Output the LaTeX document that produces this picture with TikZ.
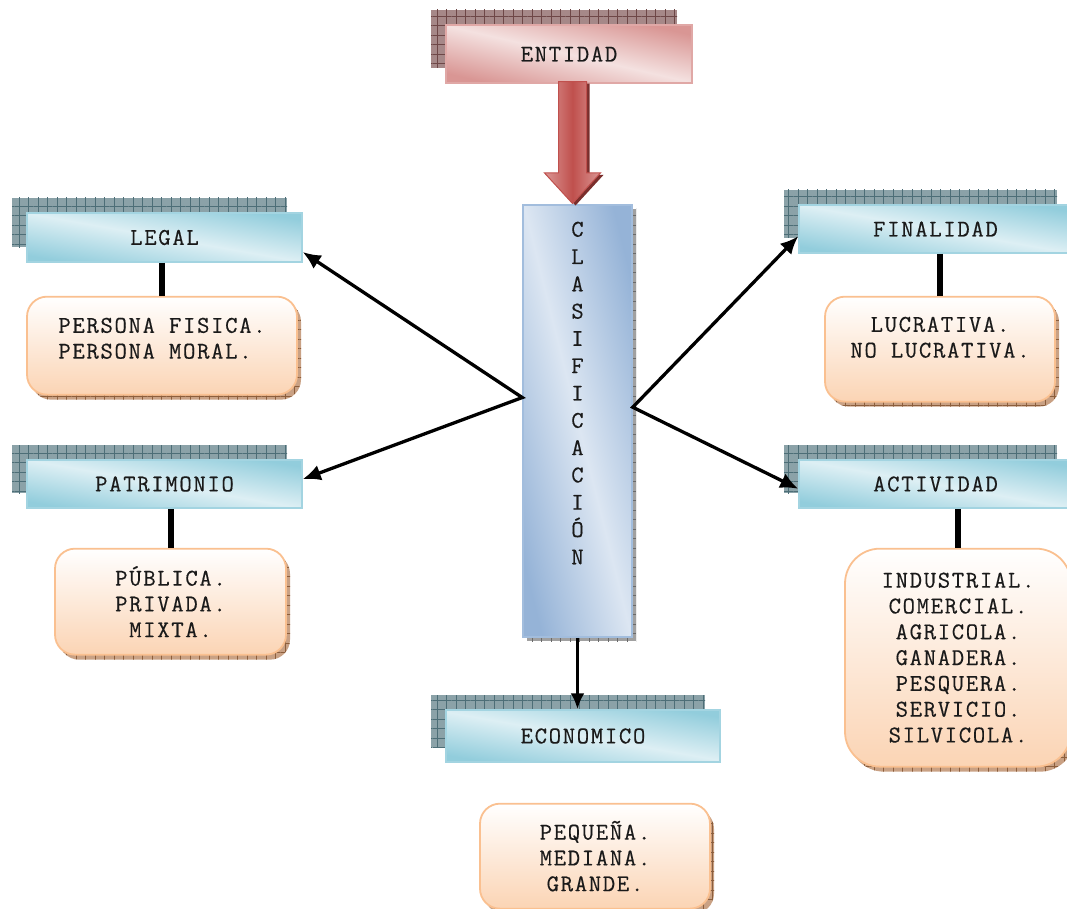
\documentclass[tikz,border=0pt]{standalone}
\usepackage{fontspec}
\newfontfamily\courfont[LetterSpace=7, FakeBold=0.4]{Latin Modern Mono}
\usetikzlibrary{positioning,arrows.meta,shapes.arrows,shadows,patterns.meta}

\definecolor{hdrdark}{HTML}{92CDDC}
\definecolor{hdrlite}{HTML}{DDEFF4}
\definecolor{hdrline}{HTML}{A3D4E1}
\definecolor{entdark}{HTML}{D99694}
\definecolor{entlite}{HTML}{F4E1E0}
\definecolor{entline}{HTML}{E0A8A6}
\definecolor{clsdark}{HTML}{95B3D7}
\definecolor{clslite}{HTML}{DCE6F2}
\definecolor{clsline}{HTML}{A2BDDD}
\definecolor{itmdark}{HTML}{FBD4B4}
\definecolor{itmline}{HTML}{FAC090}
\definecolor{arrred}{HTML}{C0504D}
\definecolor{arrpink}{HTML}{DA9694}
\definecolor{arrshd}{HTML}{7A2E2C}
\definecolor{shdblue}{HTML}{8BA2A8}
\definecolor{shdblueln}{HTML}{4D6E77}
\definecolor{shdpink}{HTML}{A68888}
\definecolor{shdpinkln}{HTML}{6E4747}
\definecolor{shdorg}{HTML}{C9A184}
\definecolor{shdorgln}{HTML}{8C5E3C}
\definecolor{shdgray}{HTML}{A0A0A0}
\definecolor{shdgrayln}{HTML}{6A6A6A}
\definecolor{txt}{HTML}{1A1A1A}

\tikzset{
  gridshadow/.style n args={4}{
    general shadow={shadow xshift=#1, shadow yshift=#2, fill=#3},
    general shadow={shadow xshift=#1, shadow yshift=#2, pattern color=#4,
                    pattern={Hatch[angle=0, distance=9.5pt, line width=0.9pt]}}},
  header/.style={rectangle, line width=1.5pt, text=txt, inner sep=0pt,
                 font=\courfont\fontsize{24}{26}\selectfont},
  bluehdr/.style={header, draw=hdrline, top color=hdrdark, bottom color=hdrdark,
                  middle color=hdrlite, shading angle=-10,
                  gridshadow={-15pt}{15pt}{shdblue}{shdblueln}},
  pinkhdr/.style={header, draw=entline, top color=entdark, bottom color=entdark,
                  middle color=entlite, shading angle=-13,
                  gridshadow={-15pt}{15pt}{shdpink}{shdpinkln}},
  clasbox/.style={rectangle, line width=1.5pt, draw=clsline, text=txt,
                  top color=clsdark, bottom color=clsdark, middle color=clslite,
                  shading angle=-76, inner sep=0pt, align=center,
                  minimum width=109pt, minimum height=432pt, text depth=56pt,
                  font=\courfont\fontsize{24}{27.3}\selectfont,
                  gridshadow={4pt}{-4pt}{shdgray}{shdgrayln}},
  item/.style={rectangle, rounded corners=20pt, line width=1.8pt, draw=itmline,
               top color=white, bottom color=itmdark, text=txt, align=center,
               inner sep=0pt, font=\courfont\fontsize{24}{25.8}\selectfont,
               gridshadow={4pt}{-5pt}{shdorg}{shdorgln}},
  bigarrow/.style={single arrow, rotate=-90, draw=arrred, line width=1pt,
                   left color=arrpink, right color=arrpink, middle color=arrred,
                   minimum height=122pt, minimum width=55pt, inner xsep=0pt,
                   inner ysep=13.5pt, single arrow head extend=14pt,
                   single arrow tip angle=85,
                   general shadow={shadow xshift=3pt, shadow yshift=-2pt, fill=arrshd}},
  spoke/.style={{Latex[length=18pt, width=16pt]}-{Latex[length=18pt, width=16pt]},
                line width=3.3pt, line join=miter},
  down/.style={-{Latex[length=16pt, width=14pt]}, line width=3.3pt},
  link/.style={line width=6pt},
}

\begin{document}
\begin{tikzpicture}[x=1pt, y=-1pt]
  \useasboundingbox (0,0) rectangle (1067,909);

  % headers
  \node[pinkhdr, minimum width=246pt, minimum height=58pt] (ent) at (569,54) {ENTIDAD};
  \node[bluehdr, minimum width=275pt, minimum height=49pt] (leg) at (164.5,237.5) {LEGAL};
  \node[bluehdr, minimum width=275pt, minimum height=48pt] (pat) at (164.5,484) {PATRIMONIO};
  \node[bluehdr, minimum width=273pt, minimum height=48pt] (fin) at (935.5,229) {FINALIDAD};
  \node[bluehdr, minimum width=273pt, minimum height=48pt] (act) at (935.5,484) {ACTIVIDAD};
  \node[bluehdr, minimum width=274pt, minimum height=52pt] (eco) at (583,736) {ECONOMICO};

  % centre column
  \node[clasbox] (clas) at (577.5,421) {C\\L\\A\\S\\I\\F\\I\\C\\A\\C\\I\\Ó\\N};
  \node[bigarrow, anchor=tip] (arr) at ([xshift=-5pt]clas.north) {};

  % lists
  \node[item, align=left, minimum width=270pt, minimum height=98pt, text depth=15pt,
        below=33pt of leg, xshift=-2.5pt] (per) {PERSONA FISICA.\\PERSONA MORAL.};
  \node[item, minimum width=230pt, minimum height=105pt, text depth=24pt,
        below=42pt of fin, xshift=4.5pt] (luc) {LUCRATIVA.\\NO LUCRATIVA.};
  \node[item, minimum width=231pt, minimum height=106pt,
        below=39pt of pat, xshift=6pt] (pub) {PÚBLICA.\\PRIVADA.\\MIXTA.};
  \node[item, rounded corners=35pt, minimum width=226pt, minimum height=218pt,
        below=39pt of act, xshift=22.5pt] (ind)
        {INDUSTRIAL.\\COMERCIAL.\\AGRICOLA.\\GANADERA.\\PESQUERA.\\SERVICIO.\\SILVICOLA.};
  \node[item, minimum width=230pt, minimum height=105pt,
        below=40pt of eco, xshift=12pt] (peq) {PEQUEÑA.\\MEDIANA.\\GRANDE.};

  % connectors
  \draw[spoke] (leg.-6.4) -- (clas.157) -- (pat.2.5);
  \draw[spoke] (fin.183.4) -- (clas.14) -- (act.182.6);
  \draw[down] (clas.south) -- (clas.south |- eco.north);
  \draw[link] (leg.south -| per.north) -- (per.north);
  \draw[link] (pat.south -| pub.north) -- (pub.north);
  \draw[link] (fin.south -| luc.north) -- (luc.north);
  \draw[link] (act.south -| ind.north) -- (ind.north);
\end{tikzpicture}
\end{document}
